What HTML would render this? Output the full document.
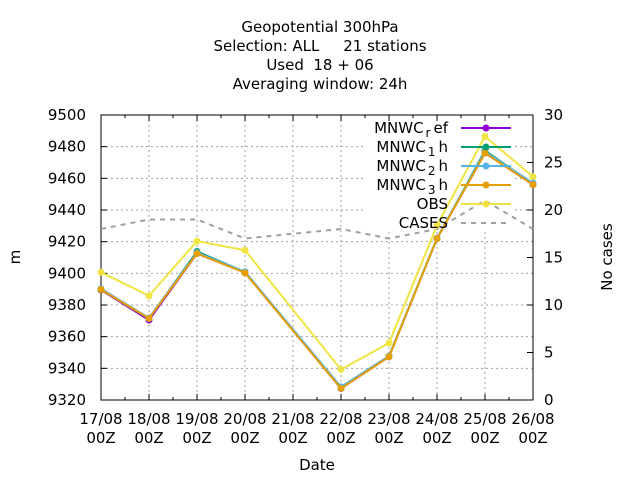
<!DOCTYPE html>
<html><head><meta charset="utf-8"><style>
html,body{margin:0;padding:0;background:#fff;}
svg{display:block;font-family:"DejaVu Sans","Liberation Sans",sans-serif;font-size:15px;}
</style></head><body>
<svg id="chart" width="640" height="480" xmlns="http://www.w3.org/2000/svg">
<g text-anchor="middle" fill="#000">
<text x="320" y="32">Geopotential 300hPa</text>
<text x="320" y="51" xml:space="preserve">Selection: ALL     21 stations</text>
<text x="320" y="70" xml:space="preserve">Used  18 + 06</text>
<text x="320" y="89">Averaging window: 24h</text>
</g>
<g id="grid"></g>
<g id="axes"></g>
<g id="series"></g>
<g id="legend"></g>
<text x="20" y="257" transform="rotate(-90 20 257)" text-anchor="middle">m</text>
<text x="612" y="257" transform="rotate(-90 612 257)" text-anchor="middle">No cases</text>
<text x="317" y="470" text-anchor="middle">Date</text>
</svg>
<script>
const categories = ["17/08","18/08","19/08","20/08","21/08","22/08","23/08","24/08","25/08","26/08"];
const yTicks = [9320,9340,9360,9380,9400,9420,9440,9460,9480,9500];
const y2Ticks = [0,5,10,15,20,25,30];
const mnwcRef = [9389.5,9370.5,9412.5,9400.5,null,9327.3,9347.3,9422,9476,9456];
const mnwc1h = [9389.8,9371.5,9413.8,9400.8,null,9327.6,9347.6,9422,9477.5,9456.5];
const mnwc2h = [9390.3,9371.8,9413.0,9401.0,null,9328.3,9347.8,9422.3,9476.8,9457];
const mnwc3h = [9389.8,9371.5,9412.5,9400.3,null,9327.3,9347.3,9422,9476,9456];
const obs = [9400.7,9385.8,9420.3,9414.6,null,9339.3,9356,9430.4,9486.5,9461];
const cases = [18,19,19,17,null,18,17,18,21,18];

const L=101,R=533,T=115,B=400;
const NS="http://www.w3.org/2000/svg";
function xs(i){return L+(R-L)*i/(categories.length-1);}
function ys(v){return B-(v-9320)/(9500-9320)*(B-T);}
function y2s(v){return B-v/30*(B-T);}
function mk(tag,attrs,parent){const e=document.createElementNS(NS,tag);for(const k in attrs)e.setAttribute(k,attrs[k]);parent.appendChild(e);return e;}
const grid=document.getElementById('grid'),axes=document.getElementById('axes'),ser=document.getElementById('series'),leg=document.getElementById('legend');
const LEGX=365,LEGY=232;
yTicks.forEach(v=>{ if(v===9320||v===9500)return;
  const y=ys(v); const x2=(y<LEGY)?LEGX:R;
  const g=mk('line',{x1:L,x2:x2,y1:y,y2:y,stroke:'#a0a0a0','stroke-width':1,'stroke-dasharray':'2,3'},grid);
  
  
  if(y<LEGY){const g2=mk('line',{x1:515,x2:R,y1:y,y2:y,stroke:'#a0a0a0','stroke-width':1,'stroke-dasharray':'2,3'},grid);
  
  }
});
categories.forEach((c,i)=>{ if(i===0||i===categories.length-1)return;
  const x=xs(i); const y1=(x>LEGX-5&&x<515)?LEGY:T;
  const g=mk('line',{x1:x,x2:x,y1:y1,y2:B,stroke:'#a0a0a0','stroke-width':1,'stroke-dasharray':'2,3'},grid);
  
  
});
const fr=mk('rect',{x:L,y:T,width:R-L,height:B-T,fill:'none',stroke:'#000','stroke-width':1},axes);


yTicks.forEach(v=>{const y=ys(v);
  mk('line',{x1:L,x2:L+6,y1:y,y2:y,stroke:'#000'},axes);
  const t=mk('text',{x:L-15,y:y+5,'text-anchor':'end'},axes);t.textContent=v;
  
  
});
y2Ticks.forEach(v=>{const y=y2s(v);
  mk('line',{x1:R-6,x2:R,y1:y,y2:y,stroke:'#000'},axes);
  const t=mk('text',{x:544,y:y+5,'text-anchor':'start'},axes);t.textContent=v;
  
  
});
for(let k=0;k<=2*(categories.length-1);k++){const x=L+(R-L)*k/(2*(categories.length-1));const h=k%2?3:6;
  mk('line',{x1:x,x2:x,y1:B,y2:B-h,stroke:'#000'},axes);mk('line',{x1:x,x2:x,y1:T,y2:T+h,stroke:'#000'},axes);}
categories.forEach((c,i)=>{const x=xs(i);
  const t=mk('text',{x:x,y:424,'text-anchor':'middle'},axes);t.textContent=c;
  
  
  const t2=mk('text',{x:x,y:443,'text-anchor':'middle'},axes);t2.textContent='00Z';
  
  
});
function series(name,vals,scale,color,dash,marker){
  const g=mk('g',{},ser);
  
  
  const pts=[];vals.forEach((v,i)=>{if(v!==null)pts.push([xs(i),scale(v)]);});
  mk('polyline',{points:pts.map(p=>p.join(',')).join(' '),fill:'none',stroke:color,'stroke-width':2,'stroke-dasharray':dash||'none'},g);
  if(marker)pts.forEach(p=>{const m=mk('circle',{cx:p[0],cy:p[1],r:3.5,fill:color},g);
    
    });
}
series('cases-line',cases,y2s,'#a0a0a0','5,5',false);
series('obs-line',obs,ys,'#f0e442',null,true);
series('mnwc-ref-line',mnwcRef,ys,'#9400d3',null,true);
series('mnwc-1h-line',mnwc1h,ys,'#009e73',null,true);
series('mnwc-2h-line',mnwc2h,ys,'#56b4e9',null,true);
series('mnwc-3h-line',mnwc3h,ys,'#e69f00',null,true);
const legItems=[['MNWC','r','ef','#9400d3',null,true],['MNWC','1','h','#009e73',null,true],['MNWC','2','h','#56b4e9',null,true],['MNWC','3','h','#e69f00',null,true],['OBS','','','#f0e442',null,true],['CASES','','','#a0a0a0','5,5',false]];
legItems.forEach((it,i)=>{const y=128+19*i;
  const g=mk('g',{},leg);
  
  
  const t=mk('text',{x:448,y:y+5,'text-anchor':'end'},g);
  t.appendChild(document.createTextNode(it[0]));
  if(it[1]){const s=mk('tspan',{'font-size':'12px',dy:4,dx:2},t);s.textContent=it[1];const s2=mk('tspan',{dy:-4,dx:3},t);s2.textContent=it[2];}
  mk('line',{x1:461,x2:511,y1:y,y2:y,stroke:it[3],'stroke-width':2,'stroke-dasharray':it[4]||'none'},g);
  if(it[5])mk('circle',{cx:486,cy:y,r:3.5,fill:it[3]},g);
});
</script>
</body></html>
